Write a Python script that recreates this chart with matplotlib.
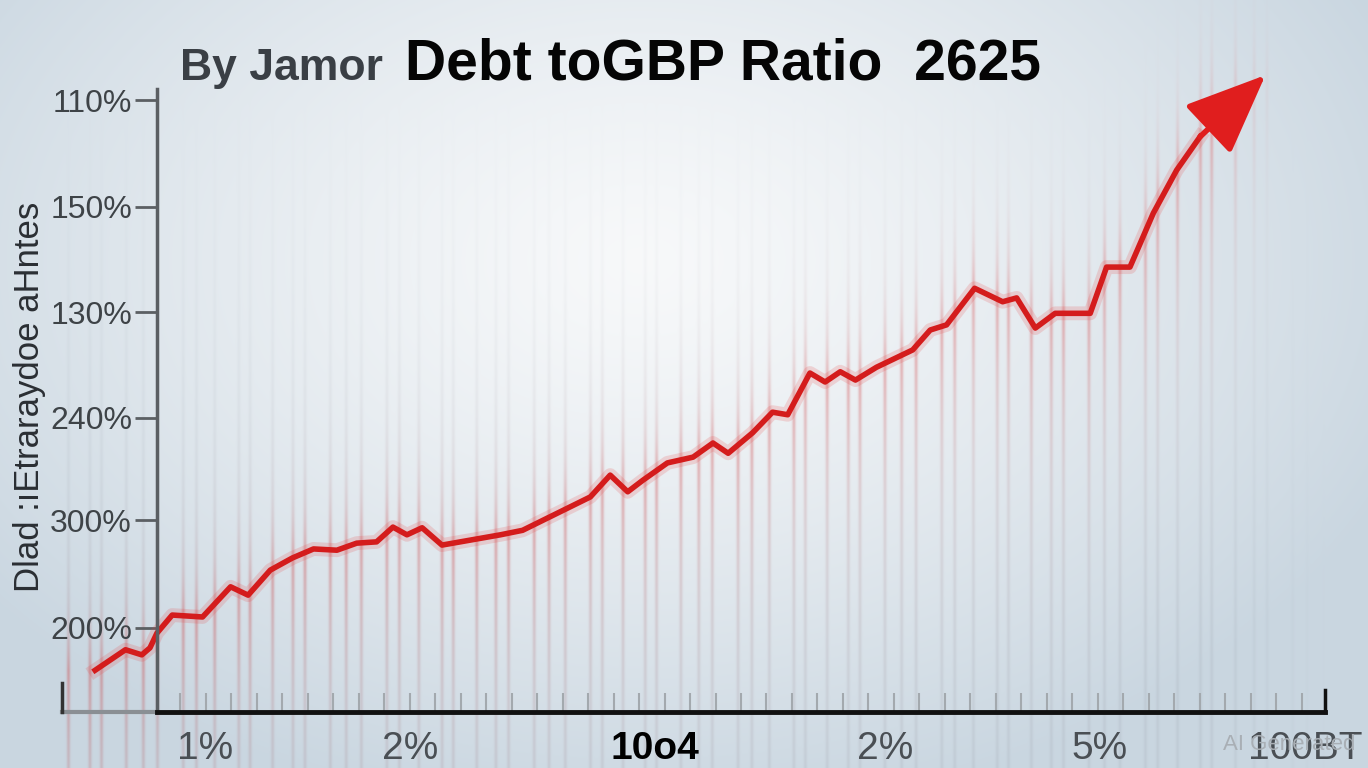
import numpy as np
import matplotlib
matplotlib.use("Agg")
import matplotlib.pyplot as plt

# Данные (условные единицы 0..100 по обеим осям)
x_vals = [-5.3, -2.7, -1.3, -0.6, 0.0, 1.3, 3.9, 6.3, 7.8, 9.7, 11.6, 13.4, 15.4,
          17.1, 18.8, 20.2, 21.4, 22.7, 24.4, 29.4, 31.3, 37.1, 38.8, 40.3, 41.6,
          43.7, 45.9, 47.6, 48.9, 51.0, 52.7, 54.0, 55.9, 57.2, 58.5, 59.8, 61.6,
          64.7, 66.2, 67.6, 70.0, 72.4, 73.6, 75.2, 76.9, 79.9, 81.3, 83.3, 85.3,
          87.3, 89.3]
y_vals = [6.5, 9.7, 8.9, 10.0, 12.3, 15.1, 14.8, 19.5, 18.2, 22.1, 24.0, 25.4, 25.2,
          26.3, 26.5, 28.8, 27.6, 28.7, 26.0, 27.6, 28.3, 33.5, 36.9, 34.3, 36.1,
          38.8, 39.7, 41.9, 40.3, 43.5, 46.7, 46.3, 52.8, 51.4, 53.0, 51.7, 53.7,
          56.4, 59.5, 60.3, 66.0, 63.9, 64.5, 59.8, 62.1, 62.1, 69.3, 69.3, 77.7,
          84.4, 89.6]
arrow_tip = (94.9, 99.2)

y_ticks = [95.3, 78.7, 62.3, 45.8, 29.9, 13.1]
y_labels = ["110%", "150%", "130%", "240%", "300%", "200%"]
x_ticks = [4.1, 21.7, 42.6, 62.3, 80.7, 98.3]
x_labels = ["1%", "2%", "10o4", "2%", "5%", "100BT"]

W, H = 1368, 768
fig = plt.figure(figsize=(W / 100, H / 100), dpi=100)
plt.rcParams['font.family'] = ['Liberation Sans', 'DejaVu Sans']

ax = fig.add_axes([157 / W, (H - 712) / H, (1325 - 157) / W, (712 - 70) / H], zorder=2)
ax.set_xlim(0, 100)
ax.set_ylim(0, 100)
ax.set_facecolor('none')

# Фон: радиальный градиент + мягкие вертикальные полосы
yy, xx = np.mgrid[0:H, 0:W]
d = np.sqrt(((xx - 640) / 820) ** 2 + ((yy - 260) / 560) ** 2)
t = np.clip(d, 0, 1)[..., None] ** 1.3
edge = np.array([0.79, 0.84, 0.88])
center = np.array([0.97, 0.975, 0.98])
img = center * (1 - t) + edge * t

cols = np.arange(W)
k = np.arange(70)
stripe_c = 68 + k * 18.5 + 4 * np.sin(k * 2.3)
mask = np.zeros(W)
for c in stripe_c:
    mask = np.maximum(mask, np.exp(-((cols - c) / 1.8) ** 2))
mask *= np.clip((1330 - cols) / 120, 0, 1)

pts = ax.transData.transform(np.c_[x_vals + [arrow_tip[0]], y_vals + [arrow_tip[1]]])
line_px, line_py = pts[:, 0], H - pts[:, 1]
yl = np.interp(cols, line_px, line_py)[None, :]

env = np.clip((yy - 90) / 520, 0, 1) ** 1.1
a_grey = (0.14 * mask[None, :] * env)[..., None]
img = img * (1 - a_grey) + np.array([0.55, 0.58, 0.62]) * a_grey
below = np.where(yy > yl, np.exp(-(yy - yl) / 110), np.exp(-(yl - yy) / 40))
below *= np.clip((line_px[-1] + 20 - cols) / 60, 0, 1)[None, :]
a_red = (0.32 * mask[None, :] * below)[..., None]
img = img * (1 - a_red) + np.array([0.88, 0.25, 0.25]) * a_red

bg = fig.add_axes([0, 0, 1, 1], zorder=0)
bg.imshow(np.clip(img, 0, 1), aspect='auto')
bg.axis('off')

# Линия с лёгким свечением
ax.plot(x_vals, y_vals, color='#e84040', lw=10, alpha=0.18, clip_on=False,
        solid_joinstyle='round')
ax.plot(x_vals, y_vals, color='#d41c1c', lw=4, clip_on=False, solid_joinstyle='round')
ax.annotate('', xy=arrow_tip, xytext=(x_vals[-1], y_vals[-1]),
            arrowprops=dict(arrowstyle='-|>,head_length=1.0,head_width=0.42',
                            mutation_scale=50, color='#e01e1e', lw=4,
                            shrinkA=0, shrinkB=0), annotation_clip=False)

# Оси
for s in ['top', 'right']:
    ax.spines[s].set_visible(False)
ax.spines['left'].set_color('#5b5f63')
ax.spines['left'].set_linewidth(2.5)
ax.spines['left'].set_bounds(0, 97)
ax.spines['bottom'].set_color('#111111')
ax.spines['bottom'].set_linewidth(3.5)
ax.plot([-0.081, 0], [0, 0], color='#8a8f94', lw=3, transform=ax.transAxes, clip_on=False)
ax.plot([-0.081, -0.081], [0, 0.045], color='#333333', lw=2.5, transform=ax.transAxes,
        clip_on=False)
ax.plot([1, 1], [0, 0.035], color='#111111', lw=2.5, transform=ax.transAxes, clip_on=False)

ax.set_yticks(y_ticks)
ax.set_yticklabels(y_labels, fontsize=23, color='#3e4347')
ax.tick_params(axis='y', length=16, width=2, color='#5b5f63', pad=2)

ax.set_xticks(x_ticks)
ax.set_xticklabels(x_labels, fontsize=28, color='#4a4f54')
ax.tick_params(axis='x', length=0, pad=14)
ax.get_xticklabels()[2].set_color('#000000')
ax.get_xticklabels()[2].set_fontweight('bold')
ax.set_xticks(np.linspace(2, 98, 45), minor=True)
ax.tick_params(axis='x', which='minor', direction='in', length=14, width=1.5,
               color='#a3a9ae')

fig.text(30 / W, 1 - 397 / H, "Dlad :ıEtraraydoe aHntes", rotation=90, ha='center',
         va='center', fontsize=25, color='#2a2e33')

# Заголовок
fig.text(180 / W, 1 - 80 / H, "By Jamor", fontsize=32, color='#3a3f45',
         fontweight='bold', ha='left', va='baseline')
fig.text(405 / W, 1 - 80 / H, "Debt toGBP Ratio  2625", fontsize=41, color='#050505',
         fontweight='bold', ha='left', va='baseline')

fig.text(1355 / W, 1 - 745 / H, "AI Generated", fontsize=16, color='#a9afb5',
         ha='right', va='center')

fig.savefig('out.png', dpi=100)
